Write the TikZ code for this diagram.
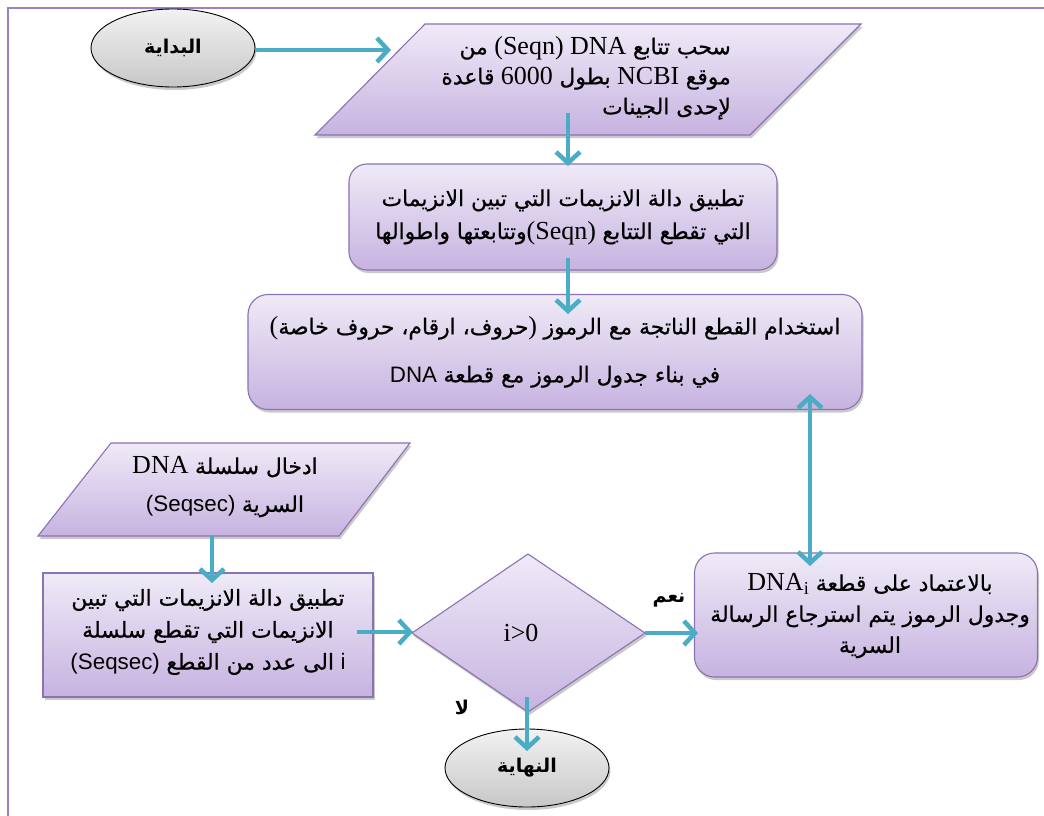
\documentclass[tikz,border=0pt]{standalone}
\usepackage{fontspec}
\setmainfont{Liberation Serif}
\newfontfamily\arabicfont[Script=Arabic,Scale=0.84,FakeBold=0.6]{DejaVu Sans}
\newfontfamily\arabicbold[Script=Arabic]{DejaVu Sans Bold}
\newfontfamily\lsans[Scale=0.86]{Liberation Sans}
\TeXXeTstate=1
\usetikzlibrary{arrows.meta,shapes.geometric,shadows}
\newcommand\ARr[1]{{\arabicfont\beginR #1\endR}}
\newcommand\ARb[1]{{\arabicbold\beginR #1\endR}}
\definecolor{arrowc}{HTML}{4BACC6}
\definecolor{lavtop}{HTML}{EFEAF7}
\definecolor{lavbot}{HTML}{C6B3E0}
\definecolor{lavline}{HTML}{8B72B0}
\definecolor{frameline}{HTML}{9A82C2}
\tikzset{
  shapefill/.style={top color=lavtop, bottom color=lavbot, draw=lavline, line width=1.1pt,
    drop shadow={shadow xshift=1.5pt, shadow yshift=-3pt, opacity=0.35, fill=black!60}},
  rbox/.style={shapefill, rectangle, rounded corners=18pt, inner sep=0pt},
  sbox/.style={shapefill, rectangle, inner sep=0pt},
  term/.style={ellipse, draw=black, line width=0.9pt, top color=white!95!black, bottom color=black!22,
    drop shadow={shadow xshift=1.5pt, shadow yshift=-3pt, opacity=0.35, fill=black!60},
    minimum width=164pt, minimum height=78pt, inner sep=0pt, font=\fontsize{19}{22}\selectfont},
  txt/.style={align=center, inner sep=0pt, font=\fontsize{26}{29}\selectfont},
  barb/.tip={Straight Barb[length=11pt,width=24pt,line width=4.5pt]},
  arr/.style={draw=arrowc, line width=4.5pt, -barb},
  darr/.style={draw=arrowc, line width=4.5pt, barb-barb},
  lbl/.style={inner sep=0pt, font=\fontsize{19}{20}\selectfont}
}
\begin{document}
\begin{tikzpicture}[x=1pt,y=-1pt]
\useasboundingbox (0,0) rectangle (1044,816);
% frame
\draw[line width=2pt, frameline] (1044,8) -- (8,8) -- (8,816);

% start
\node[term] (start) at (173,48) {\ARb{البداية}};

% parallelogram 1
\path[shapefill] (425,24) -- (861,24) -- (750,135) -- (315,135) -- cycle;
\node[txt, align=right, anchor=east, font=\fontsize{26}{30}\selectfont] (p1) at (731,78) {\ARr{من} (Seqn) DNA \ARr{سحب تتابع}\\
\ARr{قاعدة} 6000 \ARr{بطول} NCBI \ARr{موقع}\\
\ARr{لإحدى الجينات}};

% box 2
\node[rbox, minimum width=428pt, minimum height=106pt] (b2) at (563,217) {};
\node[txt, font=\fontsize{26}{33}\selectfont] (t2) at (b2) {\ARr{تطبيق دالة الانزيمات التي تبين الانزيمات}\\
\ARr{وتتابعتها واطوالها}(Seqn)\ \ARr{التي تقطع التتابع}};

% box 3
\node[rbox, rounded corners=20pt, minimum width=614pt, minimum height=115pt] (b3) at (555,352) {};
\node[txt, font=\fontsize{26}{48}\selectfont] (t3) at (b3) {(\ARr{حروف، ارقام، حروف خاصة})\ \ARr{استخدام القطع الناتجة مع الرموز}\\
{\lsans DNA} \ARr{في بناء جدول الرموز مع قطعة}};

% parallelogram 2
\path[shapefill] (111,443) -- (410,443) -- (339,536) -- (38,536) -- cycle;
\node[txt, font=\fontsize{26}{38}\selectfont] (p2) at (225,487) {DNA \ARr{ادخال سلسلة}\\
{\lsans (Seqsec)} \ARr{السرية}};

% box 5
\node[sbox, minimum width=330pt, minimum height=124pt] (b5) at (208,635) {};
\node[txt, font=\fontsize{26}{32}\selectfont] (t5) at (208,632) {\ARr{تطبيق دالة الانزيمات التي تبين}\\
\ARr{الانزيمات التي تقطع سلسلة}\\
{\lsans (Seqsec)} \ARr{الى عدد من القطع} {\lsans i}};

% diamond
\path[shapefill] (412,633) -- (528,554) -- (645,633) -- (528,712) -- cycle;
\node[txt] (d) at (521,633) {i>0};

% box 4
\node[rbox, rounded corners=20pt, minimum width=343pt, minimum height=124pt] (b4) at (866,615) {};
\node[txt, font=\fontsize{26}{31}\selectfont] (t4) at (870,616) {DNA\textsubscript{i} \ARr{بالاعتماد على قطعة}\\
\ARr{وجدول الرموز يتم استرجاع الرسالة}\\
\ARr{السرية}};

% end
\node[term] (end) at (527,768) {\ARb{النهاية}};

% labels
\node[lbl] (yes) at (669,600) {\ARb{نعم}};
\node[lbl] (no) at (462,707) {\ARb{لا}};

% connectors
\coordinate (p1in) at (391,50);
\coordinate (p1out) at (568,113);
\coordinate (b2in) at (568,166);
\coordinate (b2out) at (568,258);
\coordinate (b3in) at (568,314);
\coordinate (b3up) at (810,394);
\coordinate (b4top) at (810,566);
\coordinate (p2out) at (212,536);
\coordinate (b5in) at (212,583);
\coordinate (b5out) at (357,632);
\coordinate (dleft) at (413,632);
\coordinate (dright) at (645,633);
\coordinate (b4in) at (698,633);
\coordinate (dbot) at (527,697);
\coordinate (endin) at (527,751);
\draw[arr] (start.east |- p1in) -- (p1in);
\draw[arr] (p1out) -- (b2in);
\draw[arr] (b2out) -- (b3in);
\draw[darr] (b3up) -- (b4top);
\draw[arr] (p2out) -- (b5in);
\draw[arr] (b5out) -- (dleft);
\draw[arr] (dright) -- (b4in);
\draw[arr] (dbot) -- (endin);
\end{tikzpicture}
\end{document}
